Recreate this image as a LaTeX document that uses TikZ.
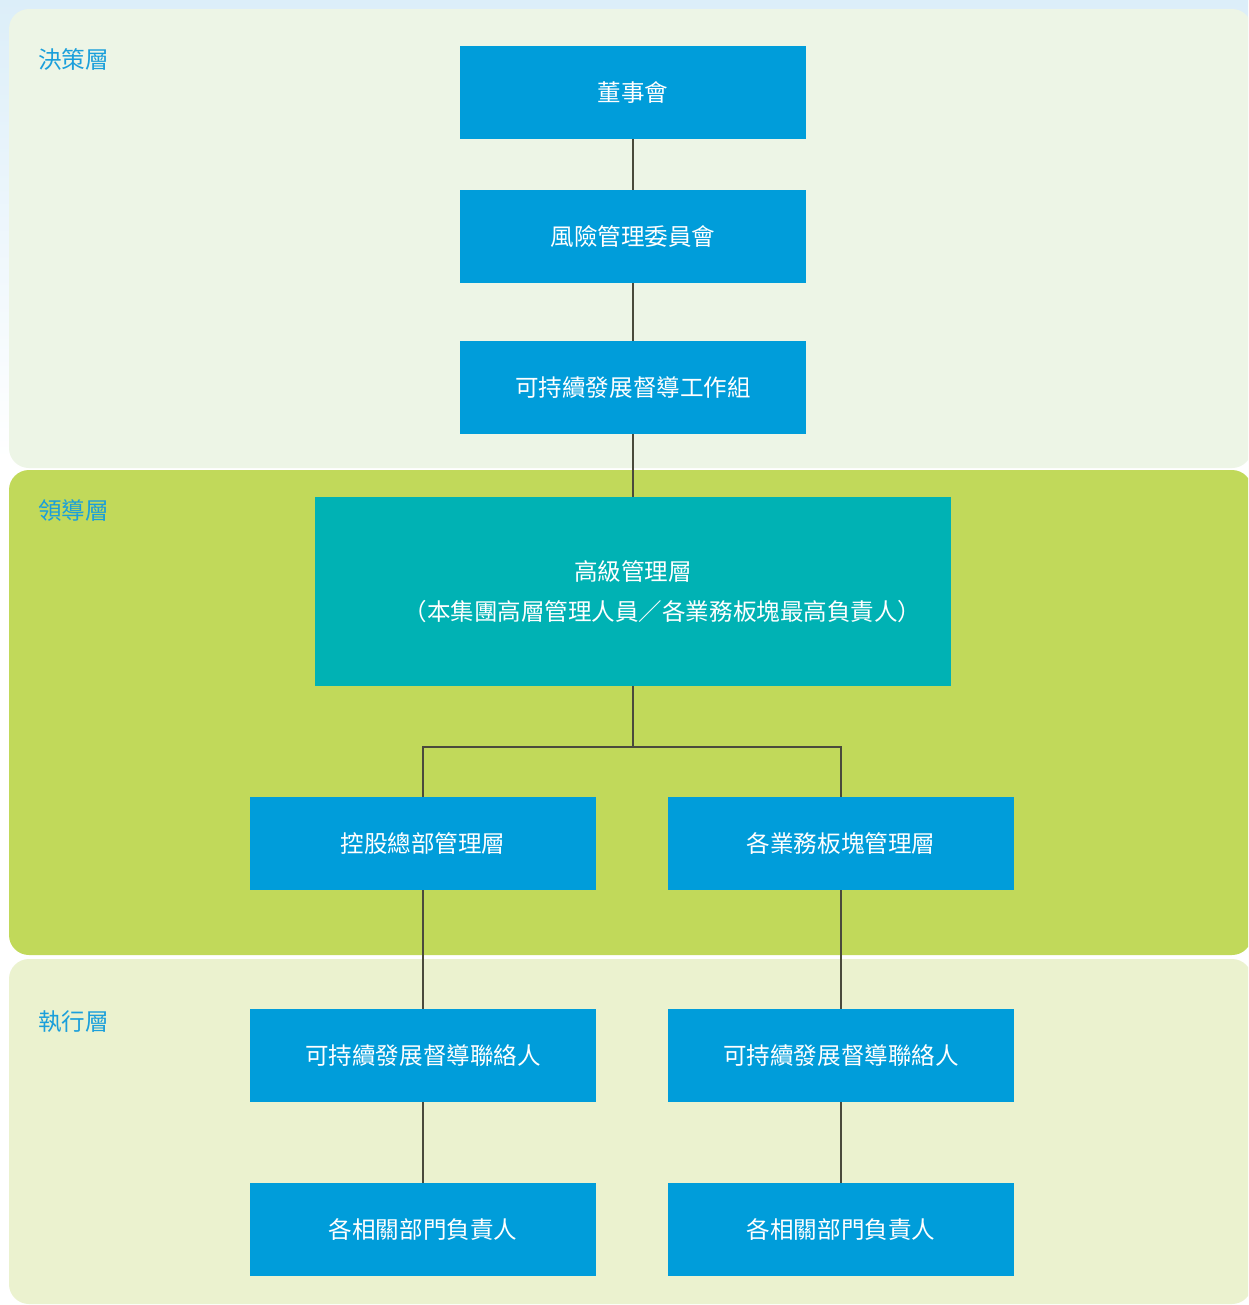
\documentclass[tikz,border=0pt]{standalone}
\usepackage{fontspec}
\setmainfont{Noto Sans CJK TC}
\definecolor{skytop}{HTML}{DCEEF9}
\definecolor{panelA}{HTML}{EDF5E6}
\definecolor{panelB}{HTML}{C1D95A}
\definecolor{panelC}{HTML}{EBF2CF}
\definecolor{boxblue}{HTML}{009DDA}
\definecolor{boxteal}{HTML}{00B2B4}
\definecolor{tagblue}{HTML}{1A9FDB}
\definecolor{linkgray}{HTML}{4A4A3C}
\tikzset{
  orgbox/.style={fill=boxblue,text=white,minimum width=6.92cm,minimum height=1.86cm,
    inner sep=0pt,font=\fontsize{13.4}{22.7}\selectfont},
  tagtext/.style={text=tagblue,anchor=west,inner sep=0pt,font=\fontsize{13.4}{16}\selectfont},
  link/.style={draw=linkgray,line width=0.85pt},
  panel/.style={rounded corners=0.4cm}
}

\begin{document}
\begin{tikzpicture}[x=0.02cm,y=-0.02cm]
                    \useasboundingbox (0,0) rectangle (1248,1305);
                    \clip (0,0) rectangle (1248,1305);
                    % backdrop and the three layers
                    \shade[top color=skytop,bottom color=white] (0,0) rectangle (1248,460);
                    \fill[white] (0,460) rectangle (1248,1305);
                    \fill[panelA,panel] (9,9) rectangle (1252,468);
                    \fill[panelB,panel] (9,470) rectangle (1252,955);
                    \fill[panelC,panel] (9,959) rectangle (1252,1304);
                    \node[tagtext] (tagA) at (38,59) {決策層};
                    \node[tagtext] (tagB) at (38,510) {領導層};
                    \node[tagtext] (tagC) at (38,1022) {執行層};
                    % boxes
                    \node[orgbox] (board) at (633,92.5) {董事會};
                    \node[orgbox] (risk) at (633,236.5) {風險管理委員會};
                    \node[orgbox] (task) at (633,387.5) {可持續發展督導工作組};
                    \node[orgbox,fill=boxteal,minimum width=12.72cm,minimum height=3.78cm,align=center]
                      (senior) at (633,591.5) {高級管理層\\\hspace*{2.5em}（本集團高層管理人員／各業務板塊最高負責人）};
                    \node[orgbox] (hq) at (423,843.5) {控股總部管理層};
                    \node[orgbox] (seg) at (841,843.5) {各業務板塊管理層};
                    \node[orgbox] (liaisonL) at (423,1055.5) {可持續發展督導聯絡人};
                    \node[orgbox] (liaisonR) at (841,1055.5) {可持續發展督導聯絡人};
                    \node[orgbox] (headL) at (423,1229.5) {各相關部門負責人};
                    \node[orgbox] (headR) at (841,1229.5) {各相關部門負責人};
                    % connectors
                    \coordinate (fork) at (633,747);
                    \draw[link] (board) -- (risk);
                    \draw[link] (risk) -- (task);
                    \draw[link] (task) -- (senior);
                    \draw[link] (senior) -- (fork);
                    \draw[link] (fork) -| (hq.north);
                    \draw[link] (fork) -| (seg.north);
                    \draw[link] (hq) -- (liaisonL);
                    \draw[link] (seg) -- (liaisonR);
                    \draw[link] (liaisonL) -- (headL);
                    \draw[link] (liaisonR) -- (headR);
                \end{tikzpicture}
\end{document}
